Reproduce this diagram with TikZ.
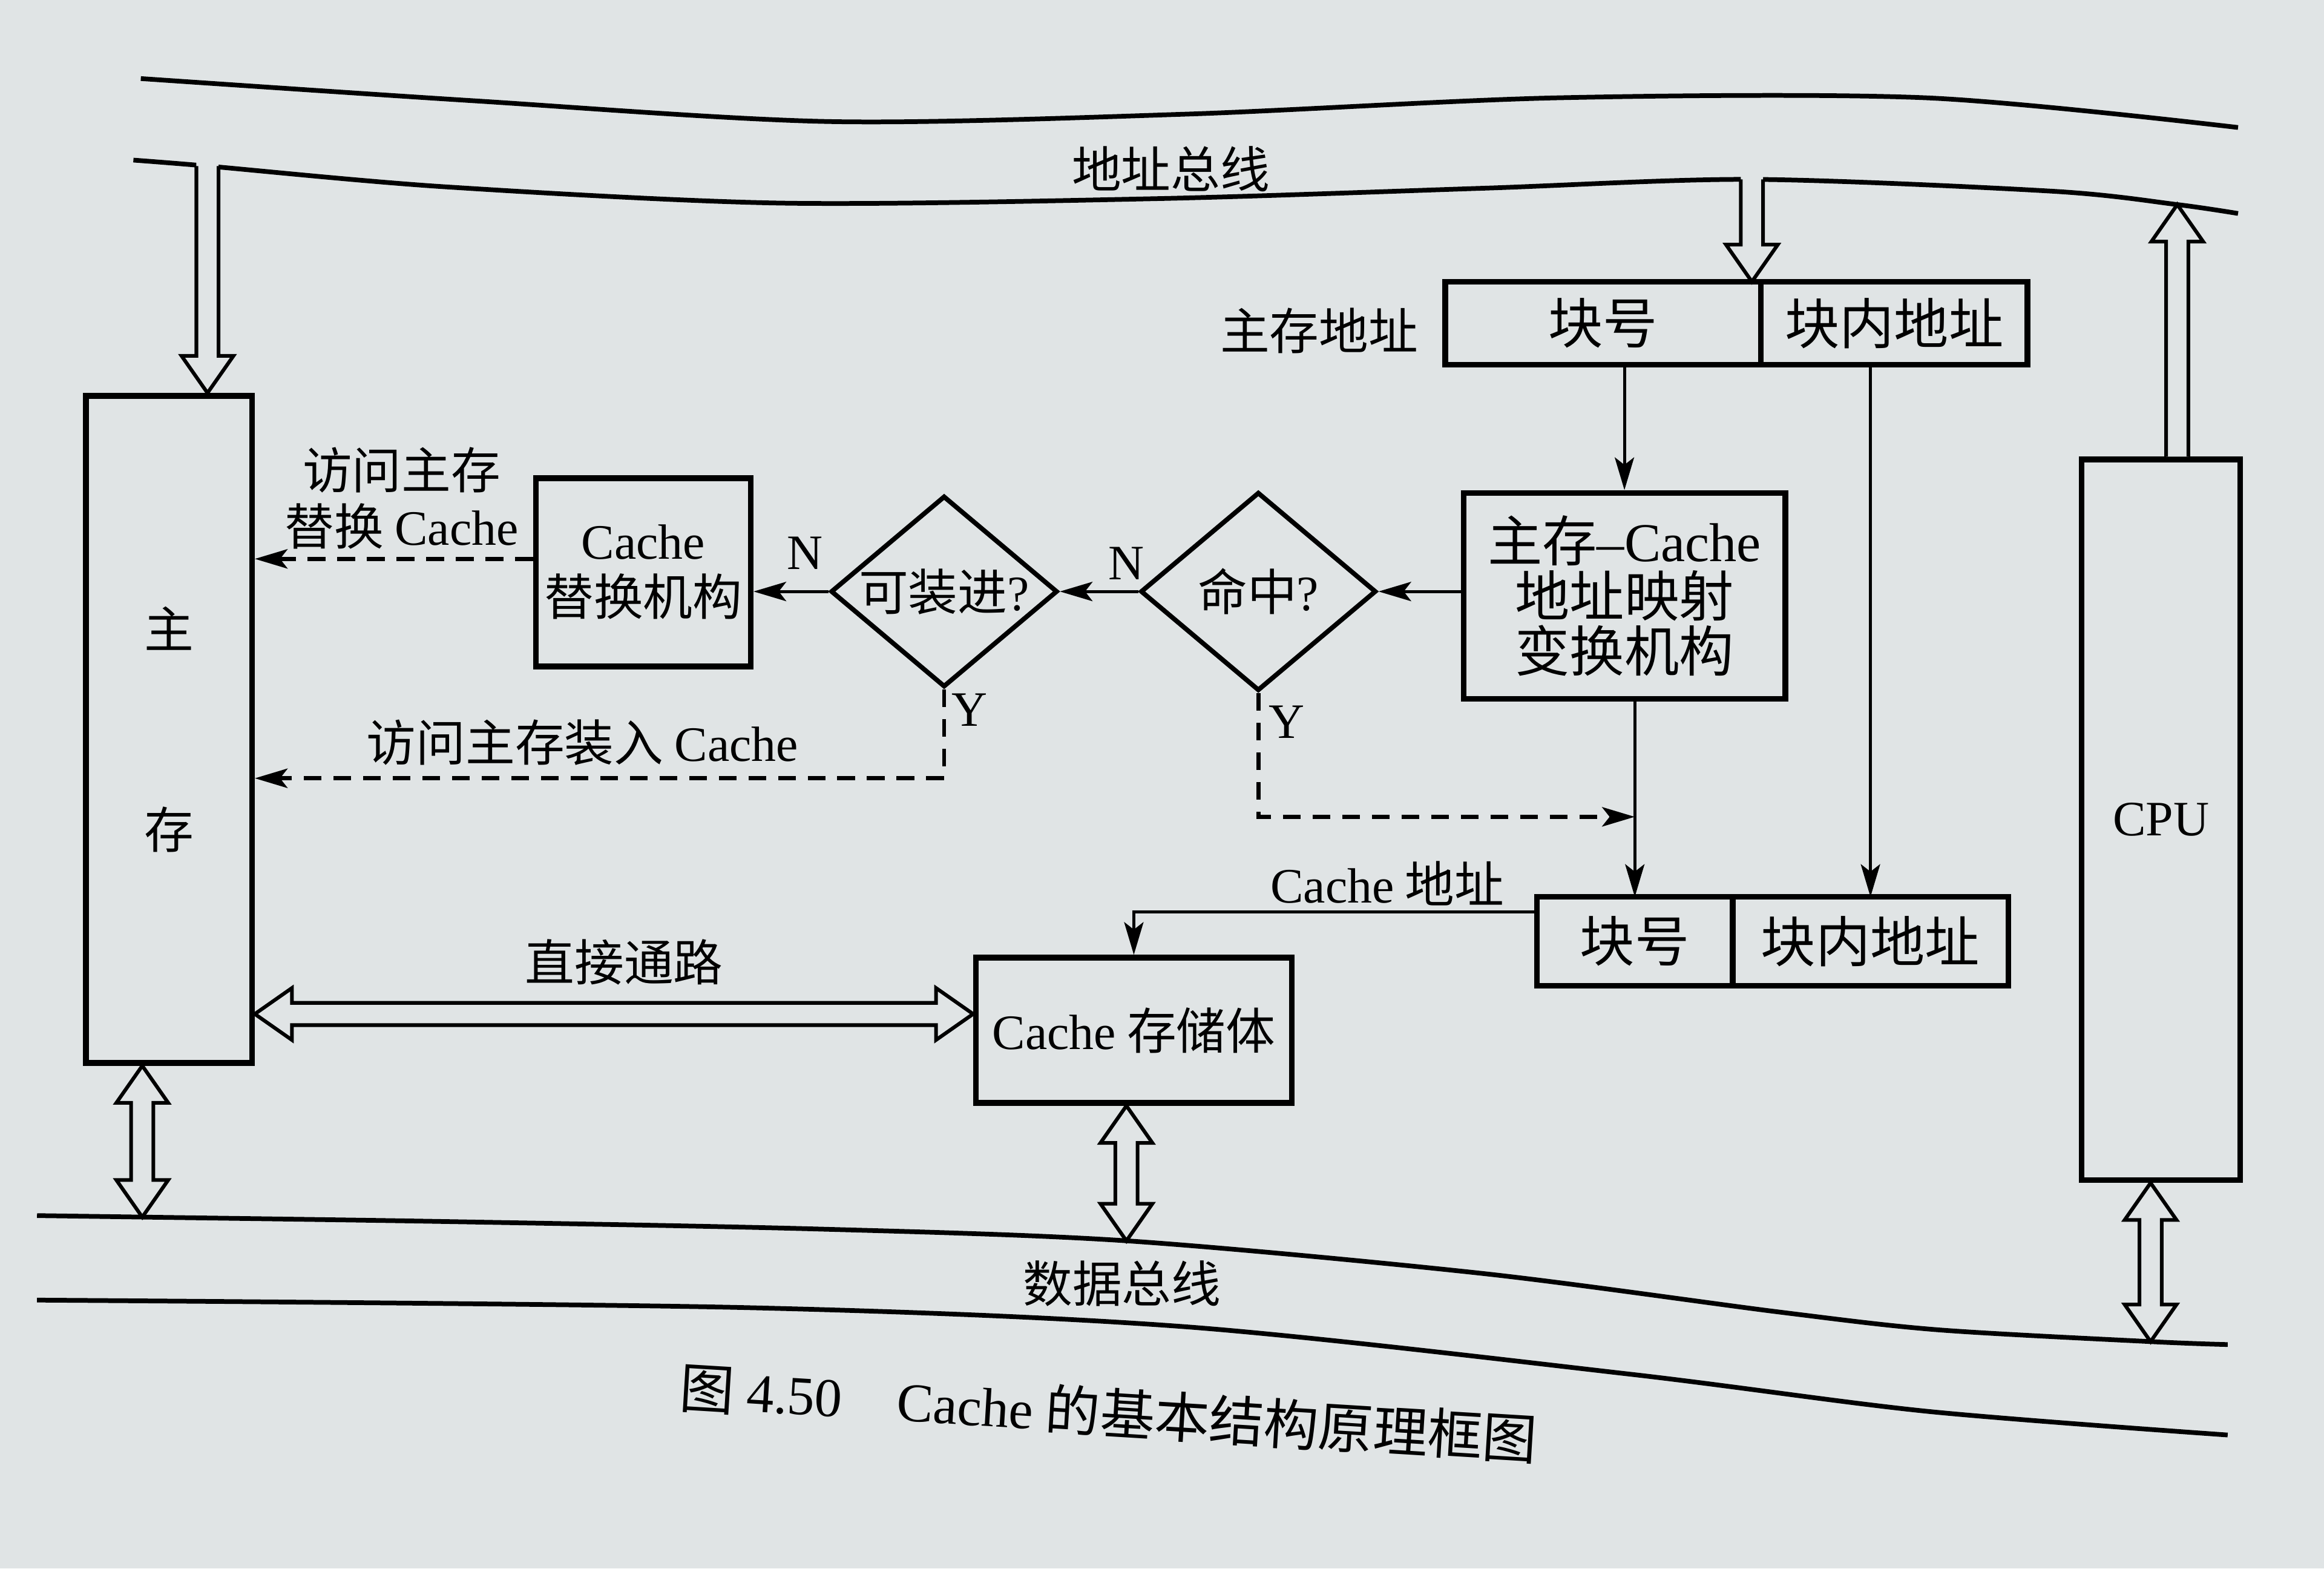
\documentclass[tikz,border=0pt]{standalone}
\usepackage{fontspec}
\setmainfont{Liberation Serif}
\newfontfamily\zh{Noto Sans CJK SC}
\usetikzlibrary{shapes.geometric, arrows.meta, calc, positioning}
\definecolor{paper}{RGB}{224,228,229}
\newcommand{\fz}{\fontsize{9.5}{10.8}\selectfont}
\newcommand{\fzl}{\fontsize{10.5}{10.6}\selectfont}
\newcommand{\lat}[1]{{\rmfamily #1}}
% hollow arrow: [backward fill] tail, head
\newcommand{\hollowone}[3][0mm]{%
  \coordinate (hb) at ($(#3)!2.5mm!(#2)$);
  \coordinate (ht) at ($(#2)!-#1!(#3)$);
  \fill[paper] ($(ht)!0.75mm!90:(#3)$) -- ($(hb)!0.75mm!90:(#3)$) -- ($(hb)!1.75mm!90:(#3)$) -- (#3)
    -- ($(hb)!1.75mm!-90:(#3)$) -- ($(hb)!0.75mm!-90:(#3)$) -- ($(ht)!0.75mm!-90:(#3)$) -- cycle;
  \draw[hol, fill=none] ($(#2)!0.75mm!90:(#3)$) -- ($(hb)!0.75mm!90:(#3)$) -- ($(hb)!1.75mm!90:(#3)$) -- (#3)
    -- ($(hb)!1.75mm!-90:(#3)$) -- ($(hb)!0.75mm!-90:(#3)$) -- ($(#2)!0.75mm!-90:(#3)$);}
% hollow double arrow
\newcommand{\hollowtwo}[2]{%
  \coordinate (ha) at ($(#1)!2.5mm!(#2)$);
  \coordinate (hb) at ($(#2)!2.5mm!(#1)$);
  \draw[hol] (#1) -- ($(ha)!1.75mm!90:(#2)$) -- ($(ha)!0.75mm!90:(#2)$) -- ($(hb)!0.75mm!-90:(#1)$)
    -- ($(hb)!1.75mm!-90:(#1)$) -- (#2) -- ($(hb)!1.75mm!90:(#1)$) -- ($(hb)!0.75mm!90:(#1)$)
    -- ($(ha)!0.75mm!-90:(#2)$) -- ($(ha)!1.75mm!-90:(#2)$) -- cycle;}

\begin{document}
\begin{tikzpicture}[x=0.1mm, y=-0.1mm,
	box/.style = {rectangle, draw, line width=1.1pt, align=center, inner sep=0pt, font=\fz\zh},
	cell/.style = {box, outer sep=0pt, minimum height=5.6mm, font=\fzl\zh},
	dec/.style = {diamond, draw, line width=0.9pt, inner sep=0pt, aspect=1.2, font=\fz\zh},
	txt/.style = {align=center, inner sep=0pt, font=\fz\zh},
	bus/.style = {line width=0.9pt},
	ar/.style = {-{Stealth[length=2.2mm, width=1.3mm, inset=0.5mm]}, line width=0.6pt},
	dsh/.style = {ar, line width=0.8pt, dash pattern=on 1.2mm off 0.8mm},
	hol/.style = {draw, fill=paper, line width=0.7pt, line join=miter}
	]
	\useasboundingbox (0,0) rectangle (1568,1058);
	\fill[paper] (0,0) rectangle (1568,1058);

	%Buses
	\draw[bus] plot[smooth] coordinates {(95,53) (320,68) (560,82) (800,77) (1050,66) (1300,66) (1510,86)};
	\draw[bus] plot[smooth] coordinates {(90,108) (140,112) (300,126) (527,137) (780,134) (1000,127) (1182,121) (1385,129) (1469,138) (1510,144)};
	\draw[bus] plot[smooth] coordinates {(25,820) (96,821) (300,824) (550,829) (760,837) (1000,859) (1200,885) (1307,897) (1451,905) (1503,907)};
	\draw[bus] plot[smooth] coordinates {(25,877) (500,882) (800,895) (1100,927) (1300,952) (1503,968)};
	\coordinate (ab1) at (140,112);
	\coordinate (ab2) at (1182,121);
	\coordinate (ab3) at (1469,138);
	\coordinate (db1) at (96,821);
	\coordinate (db2) at (760,837);
	\coordinate (db3) at (1451,905);

	%Nodes
	\node[box, minimum width=11.2mm, minimum height=45mm]	(mm)	at (114,492)	{主\\[9.7mm]存};
	\node[box, minimum width=14.5mm, minimum height=12.7mm]	(rep)	at (434,386)	{\lat{Cache}\\替换机构};
	\node[dec, minimum width=15.3mm, minimum height=12.9mm]	(fit)	at (637,399)	{可装进\lat{?}};
	\node[dec, minimum width=15.9mm, minimum height=13.4mm]	(hit)	at (849,399)	{命中\lat{?}};
	\node[box, minimum width=21.7mm, minimum height=13.9mm, font=\fzl\zh]	(map)	at (1096,402)	{主存\lat{--Cache}\\地址映射\\变换机构};
	\node[cell, minimum width=21.3mm]	(mb)	at (1081.5,218)	{块号};
	\node[cell, minimum width=18mm, right=0pt of mb]	(mo)	{块内地址};
	\node[cell, minimum width=13.2mm, minimum height=6mm]	(cb)	at (1103,635)	{块号};
	\node[cell, minimum width=18.6mm, minimum height=6mm, right=0pt of cb]	(co)	{块内地址};
	\node[box, minimum width=21.3mm, minimum height=9.8mm]	(cs)	at (765,695)	{\lat{Cache} 存储体};
	\node[box, minimum width=10.7mm, minimum height=48.6mm]	(cpu)	at (1458,553)	{\lat{CPU}};

	\node[txt]	(lab)	at (790,114)	{地址总线};
	\node[txt]	(ldb)	at (757,866)	{数据总线};
	\node[txt]	(lrep)	at (271,336)	{访问主存\\替换 \lat{Cache}};
	\node[txt]	(lload)	at (393,501)	{访问主存装入 \lat{Cache}};
	\node[txt]	(ldir)	at (421,649)	{直接通路};
	\node[txt]	(lma)	at (890,223)	{主存地址};
	\node[txt]	(lca)	at (936,596)	{\lat{Cache} 地址};
	\node[txt]	(n1)	at (543,373)	{\lat{N}};
	\node[txt]	(n2)	at (760,380)	{\lat{N}};
	\node[txt]	(y1)	at (654,479)	{\lat{Y}};
	\node[txt]	(y2)	at (868,487)	{\lat{Y}};
	\node[txt, font=\fzl\zh, rotate=-3.5]	(cap)	at (748,953)	{图 \lat{4.50}\quad \lat{Cache} 的基本结构原理框图};

	%Hollow arrows
	\coordinate (mt) at (mm.north -| ab1);
	\coordinate (mbt) at (mb.north -| ab2);
	\coordinate (ct) at (cpu.north -| ab3);
	\coordinate (ms) at (mm.south -| db1);
	\coordinate (css) at (cs.south -| db2);
	\coordinate (cps) at (cpu.south -| db3);
	\coordinate (dp) at (0,684);
	\coordinate (dl) at (mm.east |- dp);
	\coordinate (dr) at (cs.west |- dp);
	\hollowone[0.8mm]{ab1}{mt}
	\hollowone[0.8mm]{ab2}{mbt}
	\hollowone{ct}{ab3}
	\hollowtwo{ms}{db1}
	\hollowtwo{dl}{dr}
	\hollowtwo{css}{db2}
	\hollowtwo{cps}{db3}

	%Lines
	\coordinate (rw) at ([yshift=0.9mm]rep.west);
	\coordinate (ly) at (0,525);
	\coordinate (hy) at (0,551);
	\coordinate (cw) at ([yshift=2mm]cb.west);
	\draw[ar]	(fit.west)	--	(fit.west -| rep.east);
	\draw[ar]	(hit.west)	--	(fit.east);
	\draw[ar]	(map.west |- hit.east)	--	(hit.east);
	\draw[dsh]	(rw)	--	(rw -| mm.east);
	\draw[dsh]	(fit.south)	|-	(mm.east |- ly);
	\draw[dsh]	(hit.south)	|-	(cb.north |- hy);
	\draw[ar]	(map.north |- mb.south)	--	(map.north);
	\draw[ar]	(co.north |- mo.south)	--	(co.north);
	\draw[ar]	(cb.north |- map.south)	--	(cb.north);
	\draw[ar]	(cw)	-|	(cs.north);
\end{tikzpicture}
\end{document}
